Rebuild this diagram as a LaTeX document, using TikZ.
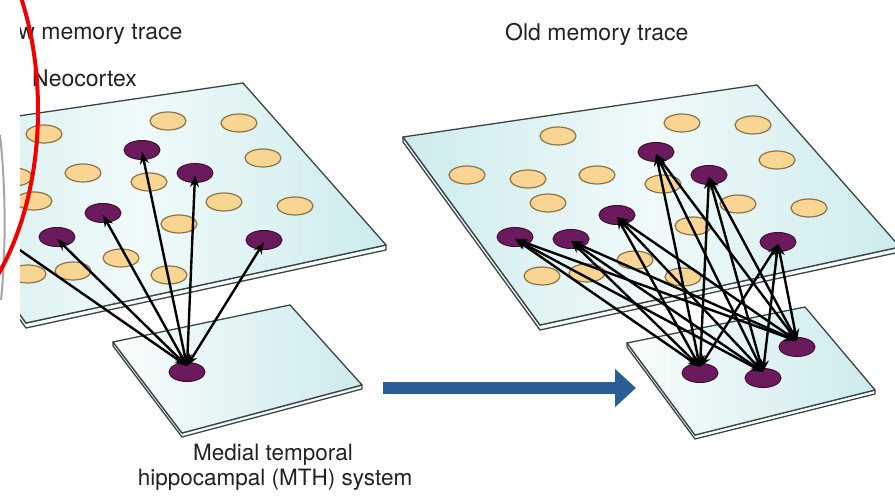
\documentclass[tikz,border=0pt]{standalone}
\usepackage{fontspec}
\setmainfont{TeX Gyre Heros}
\usetikzlibrary{shapes.geometric,arrows.meta,calc}
\definecolor{planeA}{HTML}{CDEBEC}
\definecolor{planeB}{HTML}{F0FAFA}
\definecolor{edgecol}{HTML}{3A4545}
\definecolor{orfill}{HTML}{F9D594}
\definecolor{ordraw}{HTML}{8C7443}
\definecolor{pufill}{HTML}{6C1A5E}
\definecolor{pudraw}{HTML}{3E0C35}
\definecolor{bluearr}{HTML}{2B5E96}
\definecolor{txt}{HTML}{222222}
\tikzset{
 orn/.style={ellipse, draw=ordraw, fill=orfill, line width=1.2pt, minimum width=36pt, minimum height=18pt, inner sep=0pt},
 pun/.style={ellipse, draw=pudraw, fill=pufill, line width=1pt, minimum width=36pt, minimum height=19pt, inner sep=0pt},
 link/.style={line width=2.4pt, black, {Stealth[length=12pt,width=9pt]}-{Stealth[length=12pt,width=9pt]}},
 planeface/.style={draw=edgecol, line width=1.3pt, left color=planeA, right color=planeA, middle color=planeB, line join=round},
 mthface/.style={draw=edgecol, line width=1.3pt, left color=planeB!40!white, right color=planeA, line join=round},
 planeedge/.style={draw=edgecol, line width=1.3pt, fill=planeB!60!white, line join=round},
 lbl/.style={font=\fontsize{23}{27}\selectfont, text=txt, inner sep=0pt},
}
\newcommand\cortexsheet[1]{%
  \path[planeedge] (403,137) -- (540,325) -- (900,247) -- (900,252) -- (540,330) -- (403,142) -- cycle;
  \path[planeface] (403,137) -- (757,85) -- (900,247) -- (540,325) -- cycle;
  \foreach \x/\y [count=\i] in {467/175, 558/136, 682/123, 753/125, 777/160, 528/179, 597/175, 663/184, 548/203, 738/204, 809/208, 693/226, 635/260, 542/276, 587/273, 683/277}
    \node[orn] (#1o\i) at (\x,\y) {};
  \node[pun] (#1A) at (515,237) {};
  \node[pun] (#1B) at (571,239) {};
  \node[pun] (#1C) at (617,215) {};
  \node[pun] (#1D) at (656,152) {};
  \node[pun] (#1E) at (709,175) {};
  \node[pun] (#1F) at (778,242) {};
}
\begin{document}
\begin{tikzpicture}[x=1pt,y=-1pt]
\useasboundingbox (0,0) rectangle (895,497);
\clip (0,0) rectangle (895,497);
\fill[white] (0,0) rectangle (895,497);
\begin{scope}
\clip (20,0) rectangle (895,497);
% titles
\node[lbl, anchor=base west] (tnew) at (-11,40) {New memory trace};
\node[lbl, anchor=base west] (told) at (505,41) {Old memory trace};
\node[lbl, anchor=base west] (tneo) at (32,87) {Neocortex};
% neocortex sheets
\cortexsheet{R}
\begin{scope}[shift={(-514,-2)}]
\cortexsheet{L}
\end{scope}
% MTH sheets
\path[planeedge] (113,342) -- (182,433) -- (362,385) -- (362,389) -- (182,437) -- (113,346) -- cycle;
\path[mthface] (113,342) -- (290,305) -- (362,385) -- (182,433) -- cycle;
\node[pun] (Lm) at (187,372) {};
\path[planeedge] (627,343) -- (695,435) -- (875,390) -- (875,394) -- (695,439) -- (627,347) -- cycle;
\path[mthface] (627,343) -- (805,307) -- (875,390) -- (695,435) -- cycle;
\node[pun] (RP) at (700,373) {};
\node[pun] (RQ) at (763,378) {};
\node[pun] (RR) at (797,347) {};
% links
\foreach \c in {A,B,C,D,E,F}
  \draw[link] ([yshift=-2pt]L\c.center) -- ([yshift=6pt]Lm.center);
\foreach \c in {A,B,C,D,E,F}
  \foreach \m in {P,Q,R}
    \draw[link] ([yshift=-2pt]R\c.center) -- ([yshift=6pt]R\m.center);
% big arrow
\coordinate (bs) at (383,388);
\coordinate (be) at (636,388);
\draw[bluearr, line width=12pt, line cap=butt, -{Triangle[length=21pt,width=37pt]}] (bs) -- (be);
% labels
\node[lbl, font=\fontsize{22.5}{27}\selectfont, anchor=base] (tm1) at (273,460) {Medial temporal};
\node[lbl, font=\fontsize{22.5}{27}\selectfont, anchor=base] (tm2) at (275,485) {hippocampal (MTH) system};
\end{scope}
% overlay marks from the screenshot
\draw[gray!70, line width=2pt] (0,135) .. controls (6,190) and (6,250) .. (1,300);
\draw[red!95!black, line width=4pt] (-100,110) ellipse [x radius=138pt, y radius=234pt];
\end{tikzpicture}
\end{document}
